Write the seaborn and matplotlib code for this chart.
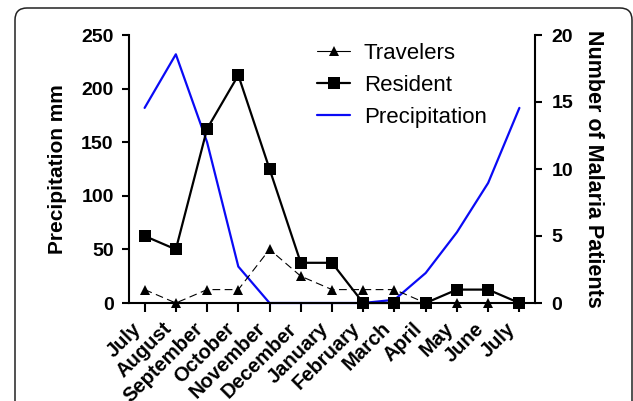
import numpy as np
import pandas as pd
import matplotlib
matplotlib.use("Agg")
import matplotlib.pyplot as plt
import seaborn as sns
from matplotlib.patches import FancyBboxPatch
from matplotlib.lines import Line2D
from matplotlib.transforms import IdentityTransform, ScaledTranslation

# ---- data ----
months = ["July", "August", "September", "October", "November", "December",
          "January", "February", "March", "April", "May", "June", "July"]
travelers = [1, 0, 1, 1, 4, 2, 1, 1, 1, 0, 0, 0, 0]
resident = [5, 4, 13, 17, 10, 3, 3, 0, 0, 0, 1, 1, 0]
precipitation = [182, 232, 150, 34, 0, 0, 0, 0, 3, 28, 66, 112, 182]
left_ticks = [0, 50, 100, 150, 200, 250]
right_ticks = [0, 5, 10, 15, 20]

pos = list(range(len(months)))
df = pd.DataFrame({"pos": pos, "month": months, "travelers": travelers,
                   "resident": resident, "precipitation": precipitation})

sns.set_style("ticks")
plt.rcParams["font.family"] = ["Liberation Sans", "DejaVu Sans"]
for k in ["text.color", "axes.labelcolor", "xtick.color", "ytick.color",
          "axes.edgecolor"]:
    plt.rcParams[k] = "black"

W, H = 633, 401
fig = plt.figure(figsize=(W / 100, H / 100), dpi=100)
ax = fig.add_axes([129 / W, 1 - 303 / H, (535 - 129) / W, (303 - 35) / H])
ax2 = ax.twinx()

BLUE = "#0a0af5"
sns.lineplot(data=df, x="pos", y="precipitation", ax=ax, color=BLUE,
             linewidth=1.6, legend=False)
sns.lineplot(data=df, x="pos", y="travelers", ax=ax2, color="black",
             linewidth=0.8, linestyle=(0, (7, 4)), marker="^", markersize=7.5,
             markeredgewidth=0, legend=False)
sns.lineplot(data=df, x="pos", y="resident", ax=ax2, color="black",
             linewidth=1.6, marker="s", markersize=8, markeredgewidth=0,
             legend=False)
for ln in ax2.lines + ax.lines:
    ln.set_clip_on(False)

ax.set_xlim(-0.5, 12.5)
ax.set_ylim(0, 250)
ax2.set_ylim(0, 20)
ax.set_yticks(left_ticks)
ax2.set_yticks(right_ticks)
ax.set_xticks(pos)
ax.set_xticklabels(months, rotation=45, ha="right", fontsize=14.5,
                   fontweight="bold")
shift = ScaledTranslation(4 / 100, -1 / 100, fig.dpi_scale_trans)
for lab in ax.get_xticklabels():
    lab.set_transform(lab.get_transform() + shift)

for a in (ax, ax2):
    a.spines["top"].set_visible(False)
    for s in a.spines.values():
        s.set_linewidth(1.5)
ax.spines["right"].set_visible(False)
ax2.spines["left"].set_visible(False)
ax2.spines["bottom"].set_visible(False)
ax2.spines["right"].set_visible(True)

ax.tick_params(axis="y", length=5, width=1.5, pad=6, labelsize=14)
ax.tick_params(axis="x", length=6.5, width=1.5, pad=5)
ax2.tick_params(axis="y", length=5, width=1.5, pad=7, labelsize=14)
for lab in ax.get_yticklabels() + ax2.get_yticklabels():
    lab.set_fontweight("bold")

ax.set_xlabel("")
ax.set_ylabel("Precipitation mm", fontsize=15, fontweight="bold", labelpad=10)
ax2.set_ylabel("Number of Malaria Patients", fontsize=15.5, fontweight="bold",
               rotation=270, labelpad=22)

handles = [
    Line2D([], [], color="black", linewidth=0.8, marker="^", markersize=7.5,
           markeredgewidth=0),
    Line2D([], [], color="black", linewidth=1.6, marker="s", markersize=8,
           markeredgewidth=0),
    Line2D([], [], color=BLUE, linewidth=1.6),
]
fig.legend(handles, ["Travelers", "Resident", "Precipitation"],
           loc="upper left", bbox_to_anchor=(317 / W, 1 - 43 / H),
           frameon=False, fontsize=16, handlelength=1.5, handletextpad=0.6,
           labelspacing=0.5, borderpad=0, borderaxespad=0)

border = FancyBboxPatch((15, -40), 617, 393 + 40,
                        boxstyle="round,pad=0,rounding_size=12",
                        transform=IdentityTransform(), facecolor="none",
                        edgecolor="#222222", linewidth=1.1)
fig.add_artist(border)

fig.savefig("out.png", dpi=100)
